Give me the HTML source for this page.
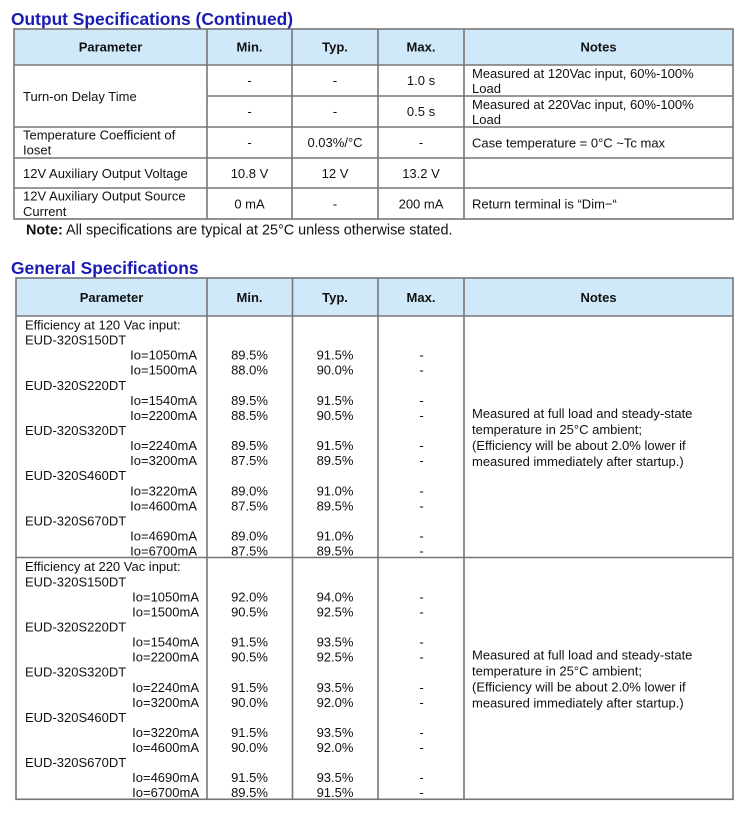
<!DOCTYPE html>
<html>
<head>
<meta charset="utf-8">
<style>
html,body{margin:0;padding:0;background:#fff;}
svg{display:block;}
text{font-family:"Liberation Sans",Arial,sans-serif;fill:#111;font-size:13px;}
.t{font-size:17.4px;font-weight:bold;fill:#1a1ab4;}
.h{font-weight:bold;}
.c{text-anchor:middle;}
.r{text-anchor:end;}
.n{font-size:14.4px;}
</style>
</head>
<body>
<svg width="750" height="815" viewBox="0 0 750 815" xmlns="http://www.w3.org/2000/svg">
<!-- Title 1 -->
<text class="t" x="11" y="25">Output Specifications (Continued)</text>

<!-- Table 1 -->
<rect x="14" y="29" width="719" height="36" fill="#cfe9fb"/>
<g stroke="#767676" stroke-width="1.6" fill="none">
<rect x="14" y="29" width="719" height="190"/>
<line x1="14" y1="65" x2="733" y2="65"/>
<line x1="207" y1="96" x2="733" y2="96"/>
<line x1="14" y1="127" x2="733" y2="127"/>
<line x1="14" y1="158" x2="733" y2="158"/>
<line x1="14" y1="188" x2="733" y2="188"/>
<line x1="207" y1="29" x2="207" y2="219"/>
<line x1="292" y1="29" x2="292" y2="219"/>
<line x1="378" y1="29" x2="378" y2="219"/>
<line x1="464" y1="29" x2="464" y2="219"/>
</g>
<text class="h c" x="110.5" y="51.5">Parameter</text>
<text class="h c" x="249.5" y="51.5">Min.</text>
<text class="h c" x="335" y="51.5">Typ.</text>
<text class="h c" x="421" y="51.5">Max.</text>
<text class="h c" x="598.5" y="51.5">Notes</text>

<text x="23" y="101">Turn-on Delay Time</text>
<text class="c" x="249.5" y="85">-</text>
<text class="c" x="335" y="85">-</text>
<text class="c" x="421" y="85">1.0 s</text>
<text x="472" y="77.8">Measured at 120Vac input, 60%-100%</text>
<text x="472" y="92.8">Load</text>
<text class="c" x="249.5" y="116">-</text>
<text class="c" x="335" y="116">-</text>
<text class="c" x="421" y="116">0.5 s</text>
<text x="472" y="108.8">Measured at 220Vac input, 60%-100%</text>
<text x="472" y="123.8">Load</text>

<text x="23" y="139.5">Temperature Coefficient of</text>
<text x="23" y="154.5">Ioset</text>
<text class="c" x="249.5" y="147">-</text>
<text class="c" x="335" y="147">0.03%/°C</text>
<text class="c" x="421" y="147">-</text>
<text x="472" y="147.5">Case temperature = 0°C ~Tc max</text>

<text x="23" y="178">12V Auxiliary Output Voltage</text>
<text class="c" x="249.5" y="178">10.8 V</text>
<text class="c" x="335" y="178">12 V</text>
<text class="c" x="421" y="178">13.2 V</text>

<text x="23" y="200.5">12V Auxiliary Output Source</text>
<text x="23" y="216">Current</text>
<text class="c" x="249.5" y="208.5">0 mA</text>
<text class="c" x="335" y="208.5">-</text>
<text class="c" x="421" y="208.5">200 mA</text>
<text x="472" y="208.5">Return terminal is “Dim−“</text>

<text class="n" x="26" y="234.5"><tspan font-weight="bold">Note:</tspan>  All specifications are typical at 25°C unless otherwise stated.</text>

<!-- Title 2 -->
<text class="t" x="11" y="274">General Specifications</text>

<!-- Table 2 -->
<rect x="16" y="278" width="717" height="38" fill="#cfe9fb"/>
<g stroke="#767676" stroke-width="1.6" fill="none">
<rect x="16" y="278" width="717" height="521.3"/>
<line x1="16" y1="316" x2="733" y2="316"/>
<line x1="16" y1="557.5" x2="733" y2="557.5"/>
<line x1="207" y1="278" x2="207" y2="799.3"/>
<line x1="292.5" y1="278" x2="292.5" y2="799.3"/>
<line x1="378" y1="278" x2="378" y2="799.3"/>
<line x1="464" y1="278" x2="464" y2="799.3"/>
</g>
<text class="h c" x="111.5" y="302">Parameter</text>
<text class="h c" x="249.5" y="302">Min.</text>
<text class="h c" x="335" y="302">Typ.</text>
<text class="h c" x="421" y="302">Max.</text>
<text class="h c" x="598.5" y="302">Notes</text>

<!-- Section 1 -->
<text x="25" y="329.5">Efficiency at 120 Vac input:</text>
<text x="25" y="344.6">EUD-320S150DT</text>
<text class="r" x="197" y="359.6">Io=1050mA</text><text class="c" x="249.5" y="359.6">89.5%</text><text class="c" x="335" y="359.6">91.5%</text><text class="c" x="421.5" y="359.6">-</text>
<text class="r" x="197" y="374.7">Io=1500mA</text><text class="c" x="249.5" y="374.7">88.0%</text><text class="c" x="335" y="374.7">90.0%</text><text class="c" x="421.5" y="374.7">-</text>
<text x="25" y="389.8">EUD-320S220DT</text>
<text class="r" x="197" y="404.9">Io=1540mA</text><text class="c" x="249.5" y="404.9">89.5%</text><text class="c" x="335" y="404.9">91.5%</text><text class="c" x="421.5" y="404.9">-</text>
<text class="r" x="197" y="419.9">Io=2200mA</text><text class="c" x="249.5" y="419.9">88.5%</text><text class="c" x="335" y="419.9">90.5%</text><text class="c" x="421.5" y="419.9">-</text>
<text x="25" y="435">EUD-320S320DT</text>
<text class="r" x="197" y="450.1">Io=2240mA</text><text class="c" x="249.5" y="450.1">89.5%</text><text class="c" x="335" y="450.1">91.5%</text><text class="c" x="421.5" y="450.1">-</text>
<text class="r" x="197" y="465.1">Io=3200mA</text><text class="c" x="249.5" y="465.1">87.5%</text><text class="c" x="335" y="465.1">89.5%</text><text class="c" x="421.5" y="465.1">-</text>
<text x="25" y="480.2">EUD-320S460DT</text>
<text class="r" x="197" y="495.3">Io=3220mA</text><text class="c" x="249.5" y="495.3">89.0%</text><text class="c" x="335" y="495.3">91.0%</text><text class="c" x="421.5" y="495.3">-</text>
<text class="r" x="197" y="510.3">Io=4600mA</text><text class="c" x="249.5" y="510.3">87.5%</text><text class="c" x="335" y="510.3">89.5%</text><text class="c" x="421.5" y="510.3">-</text>
<text x="25" y="525.4">EUD-320S670DT</text>
<text class="r" x="197" y="540.5">Io=4690mA</text><text class="c" x="249.5" y="540.5">89.0%</text><text class="c" x="335" y="540.5">91.0%</text><text class="c" x="421.5" y="540.5">-</text>
<text class="r" x="197" y="555.5">Io=6700mA</text><text class="c" x="249.5" y="555.5">87.5%</text><text class="c" x="335" y="555.5">89.5%</text><text class="c" x="421.5" y="555.5">-</text>

<text x="472" y="417.8">Measured at full load and steady-state</text>
<text x="472" y="433.8">temperature in 25°C ambient;</text>
<text x="472" y="449.8">(Efficiency will be about 2.0% lower if</text>
<text x="472" y="465.8">measured immediately after startup.)</text>

<!-- Section 2 -->
<text x="25" y="571.2">Efficiency at 220 Vac input:</text>
<text x="25" y="586.3">EUD-320S150DT</text>
<text class="r" x="199" y="601.3">Io=1050mA</text><text class="c" x="249.5" y="601.3">92.0%</text><text class="c" x="335" y="601.3">94.0%</text><text class="c" x="421.5" y="601.3">-</text>
<text class="r" x="199" y="616.4">Io=1500mA</text><text class="c" x="249.5" y="616.4">90.5%</text><text class="c" x="335" y="616.4">92.5%</text><text class="c" x="421.5" y="616.4">-</text>
<text x="25" y="631.5">EUD-320S220DT</text>
<text class="r" x="199" y="646.6">Io=1540mA</text><text class="c" x="249.5" y="646.6">91.5%</text><text class="c" x="335" y="646.6">93.5%</text><text class="c" x="421.5" y="646.6">-</text>
<text class="r" x="199" y="661.6">Io=2200mA</text><text class="c" x="249.5" y="661.6">90.5%</text><text class="c" x="335" y="661.6">92.5%</text><text class="c" x="421.5" y="661.6">-</text>
<text x="25" y="676.7">EUD-320S320DT</text>
<text class="r" x="199" y="691.8">Io=2240mA</text><text class="c" x="249.5" y="691.8">91.5%</text><text class="c" x="335" y="691.8">93.5%</text><text class="c" x="421.5" y="691.8">-</text>
<text class="r" x="199" y="706.8">Io=3200mA</text><text class="c" x="249.5" y="706.8">90.0%</text><text class="c" x="335" y="706.8">92.0%</text><text class="c" x="421.5" y="706.8">-</text>
<text x="25" y="721.9">EUD-320S460DT</text>
<text class="r" x="199" y="737">Io=3220mA</text><text class="c" x="249.5" y="737">91.5%</text><text class="c" x="335" y="737">93.5%</text><text class="c" x="421.5" y="737">-</text>
<text class="r" x="199" y="752">Io=4600mA</text><text class="c" x="249.5" y="752">90.0%</text><text class="c" x="335" y="752">92.0%</text><text class="c" x="421.5" y="752">-</text>
<text x="25" y="767.1">EUD-320S670DT</text>
<text class="r" x="199" y="782.2">Io=4690mA</text><text class="c" x="249.5" y="782.2">91.5%</text><text class="c" x="335" y="782.2">93.5%</text><text class="c" x="421.5" y="782.2">-</text>
<text class="r" x="199" y="797.2">Io=6700mA</text><text class="c" x="249.5" y="797.2">89.5%</text><text class="c" x="335" y="797.2">91.5%</text><text class="c" x="421.5" y="797.2">-</text>

<text x="472" y="659.5">Measured at full load and steady-state</text>
<text x="472" y="675.5">temperature in 25°C ambient;</text>
<text x="472" y="691.5">(Efficiency will be about 2.0% lower if</text>
<text x="472" y="707.5">measured immediately after startup.)</text>
</svg>
</body>
</html>
